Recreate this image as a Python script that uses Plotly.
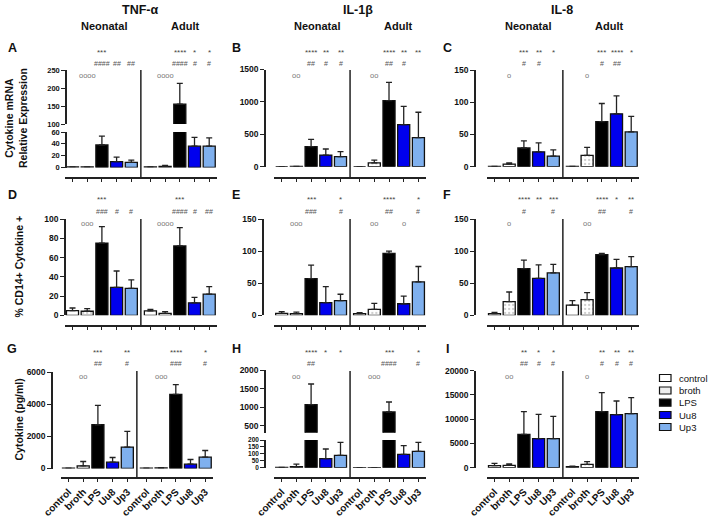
import plotly.graph_objects as go

W, H = 708, 519
FONT = "Liberation Sans, Arial, sans-serif"

groups = ["control", "broth", "LPS", "Uu8", "Up3"]
bar_colors = ["white", "white", "black", "#0000ee", "#7fb0ee"]

# bar heights (neonatal, adult) and the error bar length above each bar
a_neo = [1, 1, 38, 10, 8.5]
a_neo_sd = [0, 0, 15, 7.5, 4]
a_adult = [1, 2, 155, 36, 36]
a_adult_sd = [0, 1.5, 58, 15, 14]

b_neo = [0, 5, 309, 180, 155]
b_neo_sd = [0, 0, 114, 93, 77]
b_adult = [0, 60, 1020, 650, 450]
b_adult_sd = [0, 40, 280, 280, 390]

c_neo = [0.5, 4, 29, 23, 16.5]
c_neo_sd = [0, 2, 11, 14, 9.5]
c_adult = [0.5, 17.5, 70, 82, 54]
c_adult_sd = [0, 12.5, 28, 28, 24]

d_neo = [4.8, 4.2, 75, 29, 28]
d_neo_sd = [2.8, 2.7, 17, 17, 8.7]
d_adult = [4.5, 2, 72, 13, 22]
d_adult_sd = [1.7, 1.8, 19, 5.7, 7.8]

e_neo = [3, 2.6, 57, 19.7, 22.8]
e_neo_sd = [2.7, 2.4, 21, 25, 10]
e_adult = [2.6, 9.3, 96.6, 18, 52]
e_adult_sd = [1.4, 9.4, 3.4, 12, 24]

f_neo = [2.6, 21.3, 72.7, 57.6, 66]
f_neo_sd = [2.1, 15, 13.3, 20.8, 13.4]
f_adult = [16, 24.4, 94.5, 73.7, 75.8]
f_adult_sd = [6.8, 11, 2.1, 13.5, 15.6]

g_neo = [20, 166, 2720, 395, 1330]
g_neo_sd = [0, 270, 1205, 290, 975]
g_adult = [20, 30, 4610, 270, 706]
g_adult_sd = [0, 30, 600, 290, 414]

h_neo = [2, 7, 1071, 65, 89]
h_neo_sd = [0, 19, 554, 70, 94]
h_adult = [1, 1, 875, 96, 118]
h_adult_sd = [0, 0, 268, 63, 65]

i_neo = [410, 480, 6870, 5980, 5980]
i_neo_sd = [480, 280, 4680, 5020, 4600]
i_adult = [200, 690, 11550, 10930, 11130]
i_adult_sd = [140, 550, 3910, 2820, 3300]

# significance marks, 5 neonatal then 5 adult
a_stars = ["", "", "***", "", "", "", "", "****", "*", "*"]
a_hashes = ["", "", "####", "##", "##", "", "", "####", "#", "#"]
a_circles = ["", "oooo", "", "", "", "", "oooo", "", "", ""]
b_stars = ["", "", "****", "**", "**", "", "", "****", "**", "**"]
b_hashes = ["", "", "##", "#", "#", "", "", "##", "#", ""]
b_circles = ["", "oo", "", "", "", "", "oo", "", "", ""]
c_stars = ["", "", "***", "**", "*", "", "", "***", "****", "*"]
c_hashes = ["", "", "#", "#", "", "", "", "#", "##", ""]
c_circles = ["", "o", "", "", "", "", "o", "", "", ""]
d_stars = ["", "", "***", "", "", "", "", "***", "", ""]
d_hashes = ["", "", "###", "#", "#", "", "", "####", "#", "##"]
d_circles = ["", "ooo", "", "", "", "", "oooo", "", "", ""]
e_stars = ["", "", "***", "", "*", "", "", "****", "", "*"]
e_hashes = ["", "", "###", "", "#", "", "", "##", "", "#"]
e_circles = ["", "ooo", "", "", "", "", "oo", "", "o", ""]
f_stars = ["", "", "****", "**", "***", "", "", "****", "*", "**"]
f_hashes = ["", "", "#", "", "#", "", "", "##", "", "#"]
f_circles = ["", "o", "", "", "", "", "oo", "", "", ""]
g_stars = ["", "", "***", "", "**", "", "", "****", "", "*"]
g_hashes = ["", "", "##", "", "#", "", "", "###", "", "#"]
g_circles = ["", "oo", "", "", "", "", "ooo", "", "", ""]
h_stars = ["", "", "****", "*", "*", "", "", "***", "", "*"]
h_hashes = ["", "", "##", "", "", "", "", "####", "", "#"]
h_circles = ["", "oo", "", "", "", "", "ooo", "", "", ""]
i_stars = ["", "", "**", "*", "*", "", "", "**", "**", "**"]
i_hashes = ["", "", "##", "#", "#", "", "", "#", "#", "#"]
i_circles = ["", "oo", "", "", "", "", "o", "", "", ""]

panels = [
    dict(key="A", row=0, col=0, neo=a_neo, neo_sd=a_neo_sd, adult=a_adult, adult_sd=a_adult_sd,
         stars=a_stars, hashes=a_hashes, circles=a_circles),
    dict(key="B", row=0, col=1, neo=b_neo, neo_sd=b_neo_sd, adult=b_adult, adult_sd=b_adult_sd,
         stars=b_stars, hashes=b_hashes, circles=b_circles),
    dict(key="C", row=0, col=2, neo=c_neo, neo_sd=c_neo_sd, adult=c_adult, adult_sd=c_adult_sd,
         stars=c_stars, hashes=c_hashes, circles=c_circles),
    dict(key="D", row=1, col=0, neo=d_neo, neo_sd=d_neo_sd, adult=d_adult, adult_sd=d_adult_sd,
         stars=d_stars, hashes=d_hashes, circles=d_circles),
    dict(key="E", row=1, col=1, neo=e_neo, neo_sd=e_neo_sd, adult=e_adult, adult_sd=e_adult_sd,
         stars=e_stars, hashes=e_hashes, circles=e_circles),
    dict(key="F", row=1, col=2, neo=f_neo, neo_sd=f_neo_sd, adult=f_adult, adult_sd=f_adult_sd,
         stars=f_stars, hashes=f_hashes, circles=f_circles),
    dict(key="G", row=2, col=0, neo=g_neo, neo_sd=g_neo_sd, adult=g_adult, adult_sd=g_adult_sd,
         stars=g_stars, hashes=g_hashes, circles=g_circles),
    dict(key="H", row=2, col=1, neo=h_neo, neo_sd=h_neo_sd, adult=h_adult, adult_sd=h_adult_sd,
         stars=h_stars, hashes=h_hashes, circles=h_circles),
    dict(key="I", row=2, col=2, neo=i_neo, neo_sd=i_neo_sd, adult=i_adult, adult_sd=i_adult_sd,
         stars=i_stars, hashes=i_hashes, circles=i_circles),
]

# geometry, all in pixels of the 708x519 page
col_x0 = [72.5, 281.7, 494.5]  # pixel of the first bar centre
step = 14.7  # pixels per bar slot
adult_gap = 5.3  # adult bars start after a wider gap
x_range = [-0.5, 9.85]
row_xline = [177.5, 325.7, 477.5]
row_marks = [(52, 63.5, 75.5), (199.5, 211.5, 223), (352.5, 363.5, 376)]
yline_px = {"A": 66, "B": 265, "C": 475, "D": 65, "E": 263, "F": 475, "G": 52, "H": 265, "I": 475}
row_top = [70, 219, 371]
# y segments: (low, high, pixel of low, pixel of high, tick values, tick font size)
segments = {
    "A": [(0, 60, 167.5, 132, [0, 20, 40, 60], 7.5), (100, 250, 124, 70, [100, 150, 200, 250], 7.5)],
    "B": [(0, 1500, 166.7, 69.5, [0, 500, 1000, 1500], 8.5)],
    "C": [(0, 150, 166.7, 70, [0, 50, 100, 150], 8.5)],
    "D": [(0, 100, 315.3, 219, [0, 20, 40, 60, 80, 100], 8.5)],
    "E": [(0, 150, 315.3, 219, [0, 50, 100, 150], 8.5)],
    "F": [(0, 150, 315.3, 219, [0, 50, 100, 150], 8.5)],
    "G": [(0, 6000, 468.5, 372, [0, 2000, 4000, 6000], 8.5)],
    "H": [(0, 200, 467.7, 440, [0, 50, 100, 150, 200], 6.5),
          (320, 2000, 432.7, 370, [500, 1000, 1500, 2000], 8.5)],
    "I": [(0, 20000, 467.7, 370.7, [0, 5000, 10000, 15000, 20000], 8.5)],
}


def px(v):
    return v / W


def py(v):
    return 1 - v / H


def label(x, y, text, size, color="#111", bold=True, **kw):
    # every free text is centred on the pixel it was measured at
    d = dict(xref="paper", yref="paper", x=px(x), y=py(y), text=text, showarrow=False,
             xanchor="center", yanchor="middle",
             font=dict(family=FONT, size=size, color=color, weight="bold" if bold else "normal"))
    d.update(kw)
    return d


positions = [i for i in range(5)] + [i + adult_gap for i in range(5)]

fig = go.Figure()
layout = {}
shapes = []
annotations = []
axis_line = "#222222"
y_idx = 0

for n, p in enumerate(panels):
    key = p["key"]
    xn = n + 1
    x0 = col_x0[p["col"]] - (4 if key == "G" else 0)
    xdom = [px(x0 + x_range[0] * step), px(x0 + x_range[1] * step)]
    bottom = p["row"] == 2
    layout[f"xaxis{xn}"] = dict(
        domain=xdom, range=x_range, anchor="free", position=py(row_xline[p["row"]]),
        showgrid=False, zeroline=False, showline=True, linecolor=axis_line, linewidth=1.5,
        ticks="outside", ticklen=4, tickwidth=1.3, tickcolor=axis_line,
        tickmode="array", tickvals=positions, ticktext=groups * 2,
        showticklabels=bottom, tickangle=-45,
        tickfont=dict(family=FONT, size=10, color="#111", weight="bold"),
        automargin=False,
    )

    for lo, hi, plo, phi, tv, fs in segments[key]:
        y_idx += 1
        ya = "y" if y_idx == 1 else f"y{y_idx}"
        layout["yaxis" if y_idx == 1 else f"yaxis{y_idx}"] = dict(
            domain=[py(plo), py(phi)], range=[lo, hi], anchor="free", position=px(yline_px[key]),
            showgrid=False, zeroline=False, showline=True, linecolor=axis_line, linewidth=1.5,
            ticks="outside", ticklen=4, tickwidth=1.3, tickcolor=axis_line,
            tickmode="array", tickvals=tv, tickformat="d",
            tickfont=dict(family=FONT, size=fs, color="#111", weight="bold"),
            automargin=False,
        )
        for g, name in enumerate(groups):
            pattern = dict(shape=".", fgcolor="#9a9a9a", bgcolor="white", size=4, solidity=0.25) if name == "broth" else None
            fig.add_trace(go.Bar(
                x=[positions[g], positions[g + 5]],
                y=[p["neo"][g], p["adult"][g]],
                xaxis=f"x{xn}", yaxis=ya, width=0.82, name=name, showlegend=False,
                marker=dict(color=bar_colors[g], line=dict(color="#111", width=1.3), pattern=pattern),
                error_y=dict(type="data", symmetric=False,
                             array=[p["neo_sd"][g], p["adult_sd"][g]], arrayminus=[0, 0],
                             color="#222", thickness=1.3, width=3),
            ))

    # divider between neonatal and adult
    shapes.append(dict(type="line", xref=f"x{xn}", yref="paper", x0=4.65, x1=4.65,
                       y0=py(row_xline[p["row"]]), y1=py(row_top[p["row"]]),
                       line=dict(color=axis_line, width=1.5)))

    ys, yh, yc = row_marks[p["row"]]
    for i, pos in enumerate(positions):
        for txt, yy, col, sz in ((p["stars"][i], ys, "#444", 8), (p["hashes"][i], yh, "#555", 7),
                                 (p["circles"][i], yc, "#777", 7.5)):
            if txt:
                annotations.append(dict(xref=f"x{xn}", yref="paper", x=pos, y=py(yy), text=txt,
                                        showarrow=False, xanchor="center", yanchor="middle",
                                        font=dict(family=FONT, size=sz, color=col)))

# panel letters
letter_px = {"A": (12, 48), "B": (236, 48), "C": (447, 48), "D": (12, 195), "E": (236, 195),
             "F": (447, 195), "G": (12, 349), "H": (236, 349), "I": (447, 349)}
for k, (lx, ly) in letter_px.items():
    annotations.append(label(lx, ly, k, 12.5))

# column headers
for title, tx, nx, ax in (("TNF-α", 140, 104, 185), ("IL-1β", 358, 317, 398), ("IL-8", 562, 528, 609)):
    annotations.append(label(tx, 9.5, title, 12.5))
    annotations.append(label(nx, 26, "Neonatal", 11))
    annotations.append(label(ax, 26, "Adult", 11))

# y titles
for text, tx, ty in (("Cytokine mRNA<br>Relative Expression", 16, 118), ("% CD14+ Cytokine +", 18.5, 267),
                     ("Cytokine (pg/ml)", 18.5, 420)):
    annotations.append(label(tx, ty, text, 10.5, textangle=-90))

# legend drawn by hand so the rows sit as tight as the original
legend_y = [378, 390.5, 402.7, 415, 427]
for g, name in enumerate(groups):
    shapes.append(dict(type="rect", xref="paper", yref="paper", x0=px(659.5), x1=px(671), y0=py(legend_y[g] + 3.5),
                       y1=py(legend_y[g] - 3.5), fillcolor="#ededed" if name == "broth" else bar_colors[g],
                       line=dict(color="#111", width=1.2)))
    annotations.append(label(677, legend_y[g], name, 9.5, bold=False, xanchor="left"))

fig.update_layout(
    **layout,
    width=W, height=H,
    margin=dict(l=0, r=0, t=0, b=0),
    barmode="overlay",
    paper_bgcolor="white", plot_bgcolor="white",
    showlegend=False,
    shapes=shapes, annotations=annotations,
    font=dict(family=FONT),
)

# the page body has a default 8px margin; drop it so the figure sits at the window corner
fig.write_html("out.html", config={"displayModeBar": False},
               post_script="document.body.style.margin='0px';")
